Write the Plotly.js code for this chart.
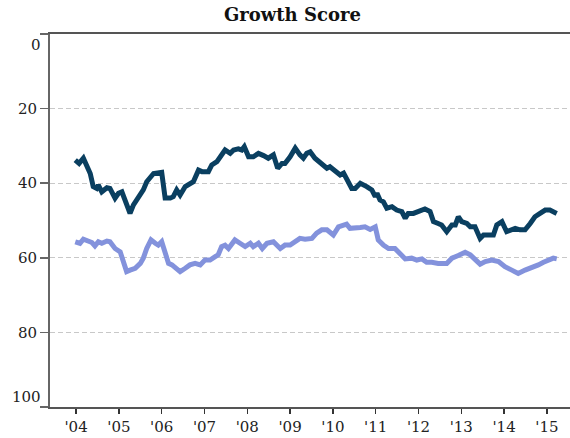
<!DOCTYPE html>
<html>
<head>
<meta charset="utf-8">
<script src="https://cdn.plot.ly/plotly-3.0.1.min.js"></script>
<style>
  html, body { margin: 0; padding: 0; background: #fff; }
  #chart { width: 570px; height: 438px; }
</style>
</head>
<body>
<div id="chart"></div>
<script>
// Decimal-year positions and scores (lower score drawn higher: axis reversed)
var darkX = [2003.98,2004.07,2004.17,2004.25,2004.33,2004.40,2004.48,2004.52,2004.60,2004.72,2004.79,2004.91,2004.99,2005.07,2005.14,2005.26,2005.34,2005.46,2005.57,2005.65,2005.73,2005.81,2006.00,2006.08,2006.20,2006.27,2006.35,2006.43,2006.55,2006.66,2006.74,2006.86,2006.94,2007.09,2007.17,2007.29,2007.40,2007.48,2007.60,2007.68,2007.79,2007.87,2007.93,2008.03,2008.14,2008.26,2008.38,2008.49,2008.61,2008.71,2008.81,2008.88,2009.00,2009.12,2009.23,2009.31,2009.39,2009.47,2009.58,2009.74,2009.86,2009.93,2010.05,2010.17,2010.25,2010.32,2010.44,2010.52,2010.64,2010.79,2010.91,2010.99,2011.03,2011.10,2011.18,2011.26,2011.38,2011.49,2011.61,2011.69,2011.76,2011.88,2012.00,2012.15,2012.27,2012.35,2012.46,2012.54,2012.66,2012.78,2012.86,2012.93,2013.01,2013.13,2013.21,2013.32,2013.44,2013.52,2013.63,2013.75,2013.83,2013.95,2014.06,2014.18,2014.26,2014.37,2014.49,2014.61,2014.72,2014.84,2014.96,2015.07,2015.15,2015.23];
var darkY = [33.8,34.7,33.3,35.1,37.4,40.9,41.4,40.5,42.3,41.2,41.4,44.0,42.7,42.3,44.5,48.1,45.8,43.6,41.8,39.6,38.3,37.4,37.1,44.0,44.0,43.6,41.8,43.2,40.9,40.0,39.6,36.5,36.9,36.9,35.1,34.2,32.4,31.1,32.0,31.1,30.8,31.1,30.2,32.9,32.9,32.0,32.6,33.3,32.4,36.0,34.7,34.7,32.9,30.6,32.4,33.3,32.0,31.6,33.3,34.7,36.0,35.6,36.9,37.8,37.3,38.7,41.4,41.4,40.0,40.9,41.8,43.6,42.7,44.5,45.0,46.7,46.3,47.2,47.6,49.4,48.1,48.1,47.6,46.9,47.6,50.3,50.8,51.2,53.0,51.2,51.2,49.0,50.3,50.8,51.7,51.7,54.8,53.9,53.9,53.9,51.2,50.3,53.0,52.5,52.1,52.5,52.5,50.8,49.0,48.1,47.2,47.2,47.6,48.1];

var lightX = [2003.98,2004.09,2004.17,2004.29,2004.37,2004.44,2004.52,2004.60,2004.72,2004.79,2004.91,2005.03,2005.11,2005.18,2005.26,2005.38,2005.50,2005.57,2005.65,2005.75,2005.85,2005.92,2006.00,2006.08,2006.16,2006.24,2006.35,2006.43,2006.55,2006.66,2006.78,2006.90,2007.01,2007.13,2007.25,2007.32,2007.40,2007.48,2007.56,2007.71,2007.83,2007.95,2008.07,2008.14,2008.26,2008.35,2008.46,2008.61,2008.77,2008.88,2009.00,2009.12,2009.23,2009.35,2009.51,2009.62,2009.74,2009.86,2010.01,2010.13,2010.32,2010.40,2010.52,2010.64,2010.75,2010.87,2010.99,2011.06,2011.18,2011.30,2011.45,2011.57,2011.69,2011.84,2011.96,2012.08,2012.19,2012.31,2012.46,2012.66,2012.78,2012.93,2013.09,2013.21,2013.32,2013.44,2013.56,2013.71,2013.87,2014.02,2014.18,2014.33,2014.49,2014.64,2014.80,2014.92,2015.04,2015.15,2015.23];
var lightY = [55.7,56.1,55.0,55.7,55.9,56.8,55.7,56.1,55.5,55.7,57.5,58.4,61.0,63.7,63.3,62.8,61.5,60.1,57.5,55.2,56.1,56.6,55.7,58.4,61.5,61.9,62.8,63.7,62.8,61.9,61.5,61.9,60.6,60.6,59.7,59.2,57.0,56.6,57.5,55.2,56.1,57.0,56.1,57.0,56.1,57.5,56.1,55.7,57.5,56.6,56.6,55.7,54.8,55.0,54.8,53.4,52.5,52.5,53.9,51.7,51.0,52.1,52.1,51.9,51.7,52.4,51.7,55.2,56.6,57.5,57.5,58.8,60.3,60.1,60.6,60.3,61.2,61.2,61.5,61.5,60.1,59.4,58.5,59.2,60.6,61.7,61.0,60.6,61.0,62.4,63.3,64.2,63.3,62.7,61.9,61.2,60.6,60.1,60.3];

var yTicks = [0, 20, 40, 60, 80, 100];
var yTickText = ['', '20', '40', '60', '80', ''];
var xTicks = [2004,2005,2006,2007,2008,2009,2010,2011,2012,2013,2014,2015];
var xTickText = ["'04","'05","'06","'07","'08","'09","'10","'11","'12","'13","'14","'15"];

var serif = 'DejaVu Serif, Liberation Serif, serif';

var traces = [
  { x: darkX, y: darkY, type: 'scatter', mode: 'lines',
    line: { color: '#0a3f60', width: 5 }, hoverinfo: 'skip' },
  { x: lightX, y: lightY, type: 'scatter', mode: 'lines',
    line: { color: '#8392dc', width: 5 }, hoverinfo: 'skip' }
];

var layout = {
  width: 570, height: 438,
  margin: { l: 50, r: 0, t: 34, b: 31, pad: 0 },
  paper_bgcolor: '#fff', plot_bgcolor: '#fff',
  showlegend: false,
  title: { text: '<b>Growth Score</b>', font: { family: serif, size: 18, color: '#111' },
           x: 0.513, xanchor: 'center', xref: 'container',
           y: 0.967, yanchor: 'middle', yref: 'container' },
  xaxis: {
    range: [2003.39, 2015.54],
    tickmode: 'array', tickvals: xTicks, ticktext: xTickText,
    ticks: 'outside', ticklen: 5, tickwidth: 1.5, tickcolor: '#333',
    showline: true, linecolor: '#555', linewidth: 2, mirror: true,
    showgrid: false, zeroline: false,
    tickfont: { family: serif, size: 15, color: '#222' }
  },
  yaxis: {
    range: [100, 0],
    tickmode: 'array', tickvals: yTicks, ticktext: yTickText,
    ticks: 'outside', ticklen: 8, tickwidth: 1.5, tickcolor: '#666',
    showline: true, linecolor: '#666', linewidth: 2,
    showgrid: true, gridcolor: '#c8c8c8', gridwidth: 1, griddash: '5px,3px',
    zeroline: false,
    tickfont: { family: serif, size: 15, color: '#222' }
  },
  annotations: [
    { text: '0', xref: 'paper', x: 0, xanchor: 'right', xshift: -7,
      yref: 'y', y: 2.9, yanchor: 'middle', showarrow: false,
      font: { family: serif, size: 15, color: '#222' } },
    { text: '100', xref: 'paper', x: 0, xanchor: 'right', xshift: -7,
      yref: 'y', y: 97.3, yanchor: 'middle', showarrow: false,
      font: { family: serif, size: 15, color: '#222' } }
  ]
};

Plotly.newPlot('chart', traces, layout, { displayModeBar: false, staticPlot: true });
</script>
</body>
</html>
